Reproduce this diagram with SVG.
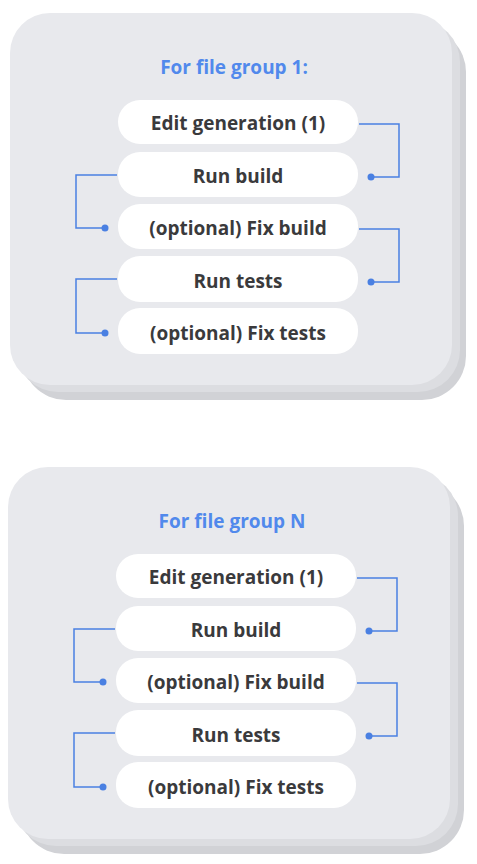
<svg xmlns="http://www.w3.org/2000/svg" width="477" height="864" viewBox="0 0 477 864">
<defs>
<style>
.back{fill:#d1d2d6}
.mid{fill:#dcdde1}
.front{fill:#e8e9ed}
.pill{fill:#ffffff}
.title{font-family:"Open Sans","Liberation Sans",sans-serif;font-size:19px;font-weight:700;fill:#5189ec;text-anchor:middle}
.lbl{font-family:"Open Sans","Liberation Sans",sans-serif;font-size:19px;font-weight:700;fill:#3a3a3c;text-anchor:middle}
.conn{fill:none;stroke:#4a80e2;stroke-width:1.5}
.dot{fill:#4a80e2}
</style>
<g id="card">
<rect class="back" x="22" y="28" width="444" height="372" rx="44"/>
<rect class="mid" x="16" y="20" width="444" height="372" rx="42"/>
<rect class="front" x="10" y="13" width="442" height="372" rx="40"/>
</g>
</defs>
<rect width="477" height="864" fill="#ffffff"/>

<g id="group1">
<use href="#card"/>
<text class="title" x="234" y="74">For file group 1:</text>
<g id="g1-edit"><rect class="pill" x="118" y="100" width="240" height="44" rx="22"/><text class="lbl" x="238" y="130">Edit generation (1)</text></g>
<g id="g1-runbuild"><rect class="pill" x="118" y="152" width="240" height="45" rx="22"/><text class="lbl" x="238" y="183">Run build</text></g>
<g id="g1-fixbuild"><rect class="pill" x="118" y="204" width="240" height="45" rx="22"/><text class="lbl" x="238" y="235">(optional) Fix build</text></g>
<g id="g1-runtests"><rect class="pill" x="118" y="256" width="240" height="46" rx="22"/><text class="lbl" x="238" y="288">Run tests</text></g>
<g id="g1-fixtests"><rect class="pill" x="118" y="308" width="240" height="46" rx="22"/><text class="lbl" x="238" y="340">(optional) Fix tests</text></g>
<g id="g1-connectors">
<polyline class="conn" points="359,124 399,124 399,177 371,177"/><circle class="dot" cx="371" cy="177" r="3.5"/>
<polyline class="conn" points="117,175 76,175 76,228 105,228"/><circle class="dot" cx="105" cy="228" r="3.5"/>
<polyline class="conn" points="359,229 399,229 399,282 371,282"/><circle class="dot" cx="371" cy="282" r="3.5"/>
<polyline class="conn" points="117,279 76,279 76,333 105,333"/><circle class="dot" cx="105" cy="333" r="3.5"/>
</g>
</g>

<g id="group2" transform="translate(-2,454)">
<use href="#card"/>
<text class="title" x="234" y="74">For file group N</text>
<g id="g2-edit"><rect class="pill" x="118" y="100" width="240" height="44" rx="22"/><text class="lbl" x="238" y="130">Edit generation (1)</text></g>
<g id="g2-runbuild"><rect class="pill" x="118" y="152" width="240" height="45" rx="22"/><text class="lbl" x="238" y="183">Run build</text></g>
<g id="g2-fixbuild"><rect class="pill" x="118" y="204" width="240" height="45" rx="22"/><text class="lbl" x="238" y="235">(optional) Fix build</text></g>
<g id="g2-runtests"><rect class="pill" x="118" y="256" width="240" height="46" rx="22"/><text class="lbl" x="238" y="288">Run tests</text></g>
<g id="g2-fixtests"><rect class="pill" x="118" y="308" width="240" height="46" rx="22"/><text class="lbl" x="238" y="340">(optional) Fix tests</text></g>
<g id="g2-connectors">
<polyline class="conn" points="359,124 399,124 399,177 371,177"/><circle class="dot" cx="371" cy="177" r="3.5"/>
<polyline class="conn" points="117,175 76,175 76,228 105,228"/><circle class="dot" cx="105" cy="228" r="3.5"/>
<polyline class="conn" points="359,229 399,229 399,282 371,282"/><circle class="dot" cx="371" cy="282" r="3.5"/>
<polyline class="conn" points="117,279 76,279 76,333 105,333"/><circle class="dot" cx="105" cy="333" r="3.5"/>
</g>
</g>
</svg>
